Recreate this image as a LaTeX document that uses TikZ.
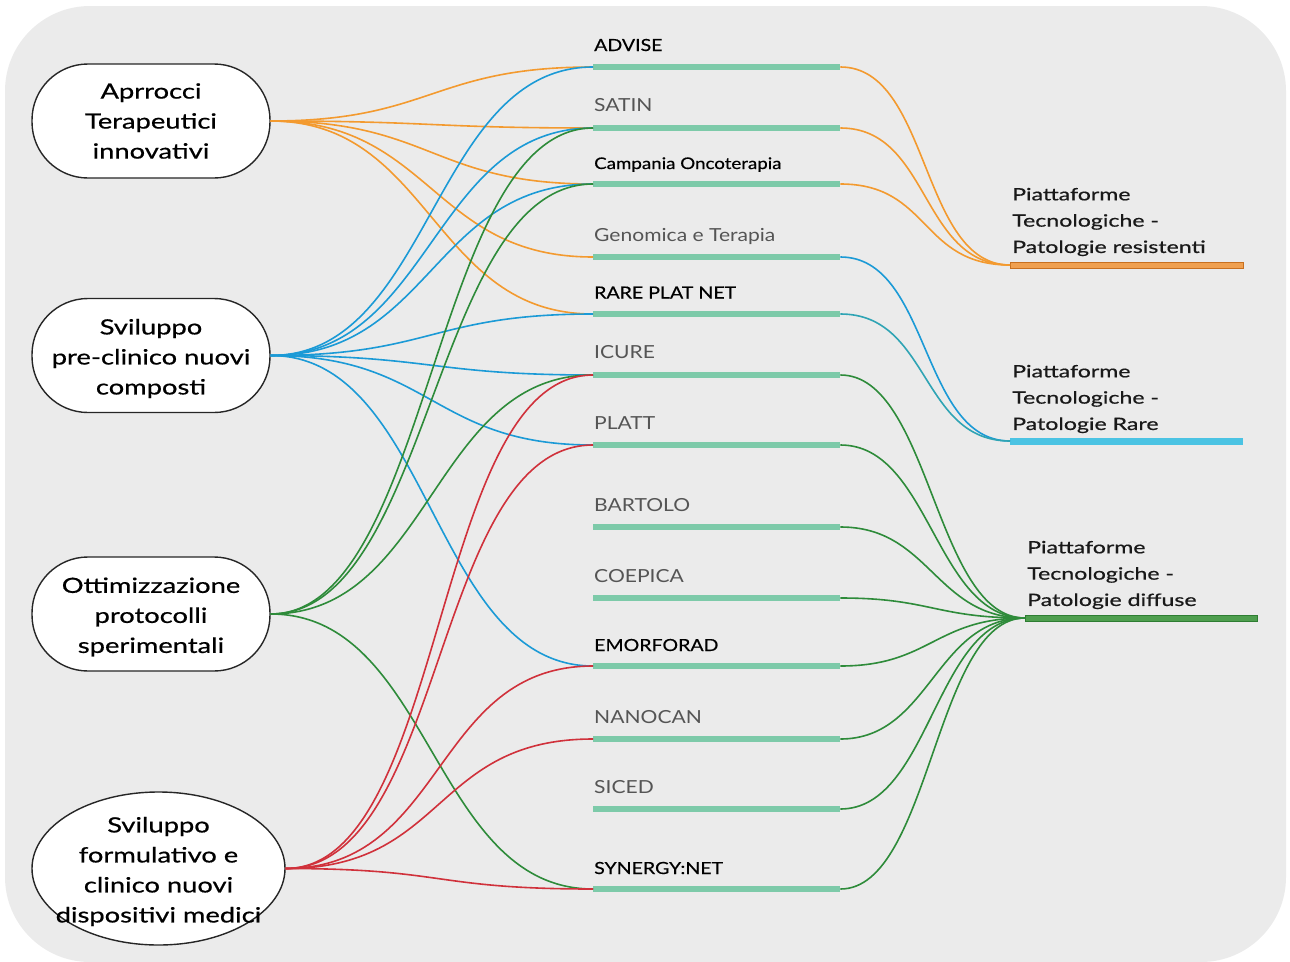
\documentclass[tikz,border=0pt]{standalone}
\usepackage{fontspec}
\setmainfont{Lato}
\newfontfamily\topicfont{Lato}[FakeStretch=1.3,FakeBold=0.6]
\newfontfamily\platfont{Lato}[FakeStretch=1.36,FakeBold=0.6]
\newfontfamily\lblfont{Lato}[FakeStretch=1.17]
\newfontfamily\lblboldfont{Lato}[FakeStretch=1.17,FakeBold=0.4]
\usetikzlibrary{shapes.geometric}
\definecolor{bg}{HTML}{EBEBEB}
\definecolor{cOr}{HTML}{F39A2F}
\definecolor{cBl}{HTML}{1B9AD6}
\definecolor{cGr}{HTML}{2E8B3A}
\definecolor{cRd}{HTML}{D0313B}
\definecolor{cTl}{HTML}{7DCAA9}
\definecolor{cTq}{HTML}{2FA4B4}
\definecolor{cCy}{HTML}{4BC3E3}
\definecolor{orFill}{HTML}{F0A050}
\definecolor{orDraw}{HTML}{C87020}
\definecolor{grFill}{HTML}{4E9E4E}
\definecolor{grDraw}{HTML}{2E7D32}
\definecolor{lblgray}{HTML}{555555}
\begin{document}
\begin{tikzpicture}[x=1pt,y=-1pt,
 topic/.style={draw=black!85,line width=1.4pt,fill=white,rounded corners=56pt,minimum width=238pt,minimum height=114pt,inner sep=0pt},
 topictext/.style={align=center,font=\topicfont\fontsize{21}{30}\selectfont,inner sep=0pt},
 proj/.style={fill=cTl,minimum width=247pt,minimum height=6pt,inner sep=0pt,anchor=west},
 plabel/.style={anchor=base west,inner sep=0pt},
 blabel/.style={plabel,text=black,font=\lblboldfont\fontsize{16.7}{20}\selectfont},
 glabel/.style={plabel,text=lblgray,font=\lblfont\fontsize{18}{20}\selectfont},
 ptext/.style={anchor=west,align=left,font=\platfont\fontsize{17}{26.3}\selectfont,inner sep=0pt,text=black!90},
 link/.style={line width=1.6pt},
 lk/.style={link,to path={.. controls +(161,0) and +(-161,0) .. (\tikztotarget)}},
 rk/.style={link,to path={.. controls +(90,0) and +(-90,0) .. (\tikztotarget)}}
]
\useasboundingbox (0,0) rectangle (1290,961);
\fill[bg,rounded corners=85pt] (5,6) rectangle (1286,962);

% left topics
\node[topic] (a) at (151,121) {};
\node[topic] (b) at (151,355.5) {};
\node[topic] (c) at (151,614) {};
\node[draw=black!85,line width=1.4pt,fill=white,ellipse,minimum width=253pt,minimum height=153pt,inner sep=0pt] (d) at (158.5,868.5) {};
\node[topictext] (at) at (151,121) {Aprrocci\\Terapeutici\\innovativi};
\node[topictext] (bt) at (151,358.5) {Sviluppo\\pre-clinico nuovi\\composti};
\node[topictext] (ct) at (151,617) {Ottimizzazione\\protocolli\\sperimentali};
\node[topictext] (dt) at (158.5,871.5) {Sviluppo\\formulativo e\\clinico nuovi\\dispositivi medici};

% project bars
\node[proj] (advise) at (593,67) {};
\node[proj] (satin) at (593,128) {};
\node[proj] (campania) at (593,184) {};
\node[proj] (genomica) at (593,257) {};
\node[proj] (rare) at (593,314) {};
\node[proj] (icure) at (593,375) {};
\node[proj] (platt) at (593,445) {};
\node[proj] (bartolo) at (593,527) {};
\node[proj] (coepica) at (593,598) {};
\node[proj] (emorforad) at (593,666) {};
\node[proj] (nanocan) at (593,739) {};
\node[proj] (siced) at (593,809) {};
\node[proj] (synergy) at (593,889) {};

% project labels
\node[blabel] (adviseL) at (594,51) {ADVISE};
\node[glabel] (satinL) at (594,111.5) {SATIN};
\node[blabel,font=\lblboldfont\fontsize{16}{18}\selectfont] (campaniaL) at (594,169) {Campania Oncoterapia};
\node[glabel] (genomicaL) at (594,241.5) {Genomica e Terapia};
\node[blabel] (rareL) at (594,298.5) {RARE PLAT NET};
\node[glabel] (icureL) at (594,358.5) {ICURE};
\node[glabel] (plattL) at (594,429.5) {PLATT};
\node[glabel] (bartoloL) at (594,511.5) {BARTOLO};
\node[glabel] (coepicaL) at (594,582.5) {COEPICA};
\node[blabel] (emorforadL) at (594,651) {EMORFORAD};
\node[glabel] (nanocanL) at (594,723.5) {NANOCAN};
\node[glabel] (sicedL) at (594,793.5) {SICED};
\node[blabel] (synergyL) at (594,874) {SYNERGY:NET};

% platform bars
\node[anchor=west,fill=orFill,draw=orDraw,line width=1pt,minimum width=233pt,minimum height=6pt,inner sep=0pt] (r1) at (1010,265) {};
\node[anchor=west,fill=cCy,minimum width=233pt,minimum height=7pt,inner sep=0pt] (r2) at (1010,441) {};
\node[anchor=west,fill=grFill,draw=grDraw,line width=1pt,minimum width=232pt,minimum height=6pt,inner sep=0pt] (r3) at (1025,618) {};

\node[ptext] (r1t) at (1012,222) {Piattaforme\\Tecnologiche -\\Patologie resistenti};
\node[ptext] (r2t) at (1012,399) {Piattaforme\\Tecnologiche -\\Patologie Rare};
\node[ptext] (r3t) at (1027,575) {Piattaforme\\Tecnologiche -\\Patologie diffuse};

% left links
\foreach \t in {advise,satin,campania,genomica,rare} \draw[lk,cOr] (a.east) to (\t.west);
\foreach \t in {advise,satin,campania,rare,icure,platt,emorforad} \draw[lk,cBl] (b.east) to (\t.west);
\foreach \t in {satin,campania,icure,synergy} \draw[lk,cGr] (c.east) to (\t.west);
\foreach \t in {icure,platt,emorforad,nanocan,synergy} \draw[lk,cRd] (d.east) to (\t.west);

% right links
\foreach \s in {advise,satin,campania} \draw[rk,cOr] (\s.east) to (r1.west);
\draw[rk,cBl] (genomica.east) to (r2.west);
\draw[rk,cTq] (rare.east) to (r2.west);
\foreach \s in {icure,platt,bartolo,coepica,emorforad,nanocan,siced,synergy} \draw[rk,cGr] (\s.east) to (r3.west);
\end{tikzpicture}
\end{document}
